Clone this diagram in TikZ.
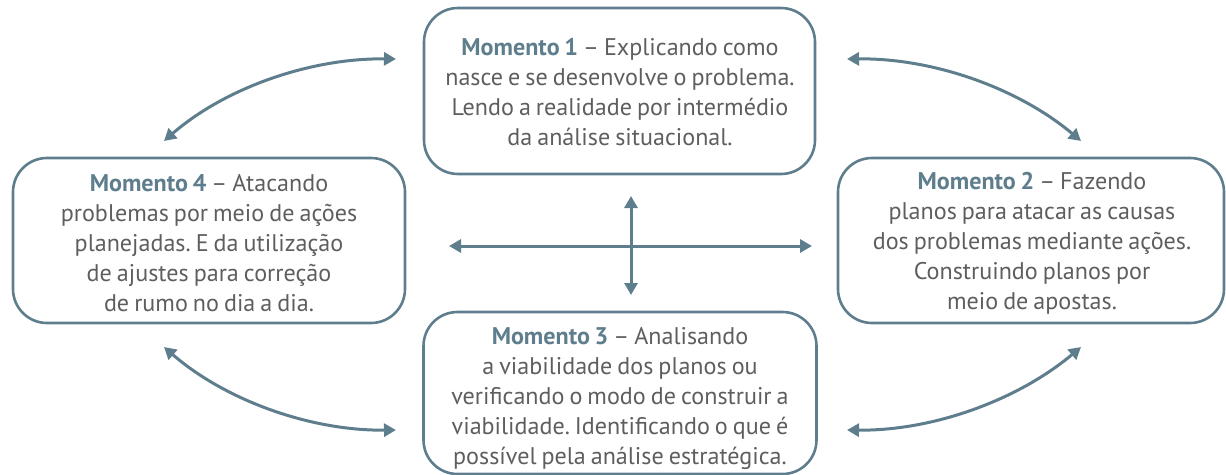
\documentclass[tikz,border=0pt]{standalone}
\usepackage{fontspec}
\setmainfont{PT Sans}[WordSpace=0.78]
\usetikzlibrary{arrows.meta}
\definecolor{accent}{HTML}{5F7E8D}
\definecolor{txt}{HTML}{5E5E5E}
\frenchspacing
\tikzset{
  box/.style={draw=accent, line width=2.6pt, rounded corners=34pt, inner sep=0pt},
  lbl/.style={align=center, text=txt, font=\fontsize{24.1}{30}\selectfont, inner sep=0pt},
  conn/.style={draw=accent, line width=3pt, {Triangle[width=13pt,length=12pt]}-{Triangle[width=13pt,length=12pt]}},
}
\newcommand{\mom}[1]{\textcolor{accent}{\textbf{Momento #1}}}
\begin{document}
\begin{tikzpicture}[x=1pt,y=-1pt]
\useasboundingbox (0,0) rectangle (1226,474);
% boxes
\node[box, minimum width=391pt, minimum height=166pt] (b1) at (619.5,91) {};
\node[box, minimum width=392pt, minimum height=165pt] (b4) at (209,240.5) {};
\node[box, minimum width=386pt, minimum height=165pt] (b2) at (1031,240.5) {};
\node[box, minimum width=393pt, minimum height=162pt] (b3) at (620,393) {};
% texts
\node[lbl] (t1) at (620,92) {\mom{1} -- Explicando como\\nasce e se desenvolve o problema.\\Lendo a realidade por intermédio\\da análise situacional.};
\node[lbl] (t4) at (209,243) {\mom{4} -- Atacando\\problemas por meio de ações\\planejadas. E da utilização\\de ajustes para correção\\de rumo no dia a dia.};
\node[lbl] (t2) at (1032,243) {\mom{2} -- Fazendo\\planos para atacar as causas\\dos problemas mediante ações.\\Construindo planos por\\meio de apostas.};
\node[lbl] (t3) at (620,398) {\mom{3} -- Analisando\\a viabilidade dos planos ou\\verificando o modo de construir a\\viabilidade. Identificando o que é\\possível pela análise estratégica.};
% arrow end points
\coordinate (tlA) at (396,59);  \coordinate (tlB) at (164,141);
\coordinate (trA) at (847,59);  \coordinate (trB) at (1081,141);
\coordinate (brA) at (847,430); \coordinate (brB) at (1081,347);
\coordinate (blA) at (396,430); \coordinate (blB) at (164,347);
\coordinate (hL) at (449,246);  \coordinate (hR) at (812,246);
\coordinate (vT) at (631,196);  \coordinate (vB) at (631,295);
% connectors
\draw[conn] (tlA) .. controls (310,58) and (225,88) .. (tlB);
\draw[conn] (trA) .. controls (933,58) and (1018,88) .. (trB);
\draw[conn] (brA) .. controls (933,431) and (1018,400) .. (brB);
\draw[conn] (blA) .. controls (310,431) and (225,400) .. (blB);
\draw[conn] (hL) -- (hR);
\draw[conn] (vT) -- (vB);
\end{tikzpicture}
\end{document}
